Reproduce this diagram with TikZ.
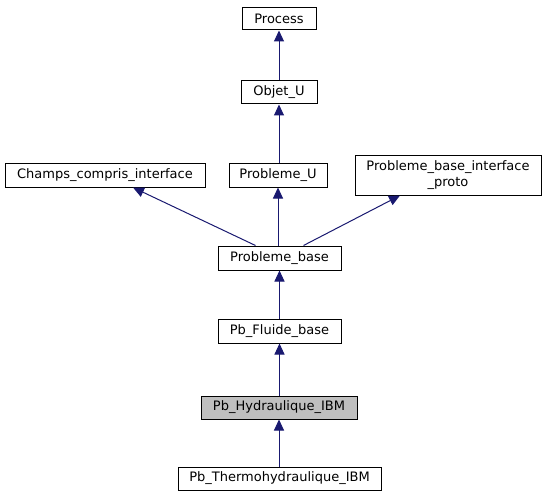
\documentclass[tikz,border=0pt]{standalone}
\usepackage{fontspec}
\setmainfont{DejaVu Sans}
\usetikzlibrary{arrows.meta}
\definecolor{edgeblue}{HTML}{191970}
\definecolor{hlgray}{HTML}{BFBFBF}
\begin{document}
\begin{tikzpicture}[x=1pt,y=-1pt,
  cls/.style={draw=black,line width=1pt,fill=white,inner sep=0pt,font=\fontsize{13}{16}\selectfont,align=center},
  inh/.style={draw=edgeblue,line width=1pt,-{Triangle[length=11pt,width=10pt]}}]
\useasboundingbox (0,0) rectangle (546,500);
\node[cls,minimum width=74pt,minimum height=22pt] (process) at (279,19) {Process};
\node[cls,minimum width=76pt,minimum height=23pt] (objet) at (279,92.5) {Objet\_U};
\node[cls,minimum width=200pt,minimum height=24pt] (champs) at (105,175) {Champs\_compris\_interface};
\node[cls,minimum width=98pt,minimum height=24pt] (probu) at (278,175) {Probleme\_U};
\node[cls,minimum width=186pt,minimum height=40pt] (pbip) at (448,175) {Probleme\_base\_interface\\\_proto};
\node[cls,minimum width=123pt,minimum height=24pt] (pbase) at (279.5,258) {Probleme\_base};
\node[cls,minimum width=123pt,minimum height=24pt] (fluide) at (279.5,331) {Pb\_Fluide\_base};
\node[cls,fill=hlgray,minimum width=156pt,minimum height=23pt] (hydro) at (279,407.5) {Pb\_Hydraulique\_IBM};
\node[cls,minimum width=203pt,minimum height=23pt] (thermo) at (279.5,478.5) {Pb\_Thermohydraulique\_IBM};
\draw[inh] (objet) -- (process);
\draw[inh] (probu.north -| objet) -- (objet);
\draw[inh] (pbase.north -| probu) -- (probu);
\draw[inh] ([xshift=-24pt]pbase.north) -- (champs.south -| 133,0);
\draw[inh] ([xshift=24pt]pbase.north) -- (pbip.south -| 400,0);
\draw[inh] (fluide.north -| pbase) -- (pbase);
\draw[inh] (hydro.north -| fluide) -- (fluide);
\draw[inh] (thermo.north -| hydro) -- (hydro);
\end{tikzpicture}
\end{document}
